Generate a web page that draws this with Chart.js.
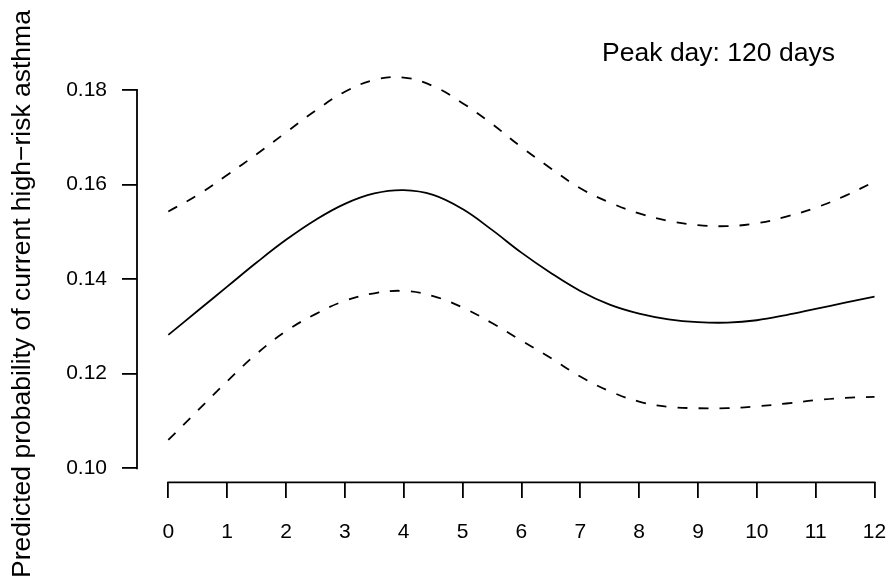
<!DOCTYPE html>
<html>
<head>
<meta charset="utf-8">
<script src="https://cdn.jsdelivr.net/npm/chart.js@4"></script>
<style>
html,body{margin:0;padding:0;background:#fff;}
#wrap{width:888px;height:582px;}
</style>
</head>
<body>
<div id="wrap"><canvas id="c" width="888" height="582"></canvas></div>
<script>
// ---- data ----
const months = [0,0.5,1,1.5,2,2.5,3,3.5,4,4.5,5,5.5,6,6.5,7,7.5,8,8.5,9,9.5,10,10.5,11,11.5,12];
const fitted = [0.1282,0.1333,0.1384,0.1435,0.1483,0.1525,0.1559,0.1581,0.1588,0.1578,0.1548,0.1504,0.1456,0.1413,0.1375,0.1346,0.1327,0.1315,0.1309,0.1308,0.1313,0.1324,0.1337,0.1350,0.1363];
const upperCI = [0.1543,0.1578,0.1620,0.1664,0.1710,0.1756,0.1796,0.1821,0.1826,0.1808,0.1772,0.1728,0.1679,0.1634,0.1592,0.1562,0.1539,0.1523,0.1514,0.1512,0.1518,0.1532,0.1551,0.1576,0.1606];
const lowerCI = [0.1060,0.1122,0.1184,0.1242,0.1290,0.1326,0.1354,0.1370,0.1375,0.1364,0.1340,0.1307,0.1270,0.1233,0.1194,0.1163,0.1141,0.1130,0.1127,0.1127,0.1131,0.1137,0.1144,0.1149,0.1151];
const xTickValues = [0,1,2,3,4,5,6,7,8,9,10,11,12];
const yTickValues = [0.10,0.12,0.14,0.16,0.18];
const yTitle = 'Predicted probability of current high\u2212risk asthma';
const annotationText = 'Peak day: 120 days';

const FONT = "'Liberation Sans', Arial, Helvetica, sans-serif";
const xAxisAt = 0.09704;   // value where the detached x axis sits

const pts = arr => months.map((m, i) => ({x: m, y: arr[i]}));

const axisLines = {
  id: 'axisLines',
  afterDraw(chart) {
    const {ctx, scales: {x, y}} = chart;
    ctx.save();
    ctx.strokeStyle = '#000';
    ctx.lineWidth = 1.8;
    ctx.beginPath();
    const yb = y.getPixelForValue(xAxisAt);
    ctx.moveTo(x.getPixelForValue(xTickValues[0]) - 0.9, yb);
    ctx.lineTo(x.getPixelForValue(xTickValues[xTickValues.length - 1]) + 0.9, yb);
    const xl = chart.chartArea.left;
    ctx.moveTo(xl, y.getPixelForValue(yTickValues[0]) + 0.9);
    ctx.lineTo(xl, y.getPixelForValue(yTickValues[yTickValues.length - 1]) - 0.9);
    ctx.stroke();
    ctx.restore();
  }
};

const annotation = {
  id: 'annotation',
  afterDraw(chart) {
    const ctx = chart.ctx;
    ctx.save();
    ctx.fillStyle = '#000';
    ctx.font = '26.5px ' + FONT;
    ctx.textAlign = 'center';
    ctx.textBaseline = 'alphabetic';
    ctx.fillText(annotationText, 718.5, 61);
    ctx.restore();
  }
};

const lineStyle = {
  borderColor: '#000',
  borderWidth: 1.8,
  pointRadius: 0,
  fill: false,
  tension: 0.4,
  clip: false
};

new Chart(document.getElementById('c'), {
  type: 'line',
  data: {
    datasets: [
      Object.assign({label: 'Fitted', data: pts(fitted)}, lineStyle),
      Object.assign({label: 'Upper', data: pts(upperCI), borderDash: [10, 11]}, lineStyle),
      Object.assign({label: 'Lower', data: pts(lowerCI), borderDash: [10, 11]}, lineStyle)
    ]
  },
  options: {
    responsive: false,
    devicePixelRatio: 1,
    animation: false,
    layout: {padding: {top: 74.8, bottom: 68.8, left: 0, right: 0}},
    plugins: {legend: {display: false}, tooltip: {enabled: false}},
    scales: {
      x: {
        type: 'linear',
        position: {y: xAxisAt},
        min: -0.532,
        max: 12.229,
        afterBuildTicks: s => { s.ticks = xTickValues.map(v => ({value: v})); },
        afterFit: s => { s.paddingLeft = 0; s.paddingRight = 0; },
        ticks: {
          color: '#000',
          font: {family: FONT, size: 21},
          padding: 21.7,
          maxRotation: 0,
          autoSkip: false,
          callback: v => String(v)
        },
        grid: {display: true, drawOnChartArea: false, drawTicks: true, tickLength: 16, color: '#000', lineWidth: 1.8},
        border: {display: false}
      },
      y: {
        type: 'linear',
        position: 'left',
        min: 0.090507,
        max: 0.18319,
        afterBuildTicks: s => { s.ticks = yTickValues.map(v => ({value: v})); },
        afterFit: s => { s.width = 137; s.paddingTop = 0; s.paddingBottom = 0; },
        ticks: {
          color: '#000',
          font: {family: FONT, size: 21},
          padding: 15,
          autoSkip: false,
          callback: v => Number(v).toFixed(2)
        },
        grid: {display: true, drawOnChartArea: false, drawTicks: true, tickLength: 15, color: '#000', lineWidth: 1.8},
        border: {display: false},
        title: {
          display: true,
          text: yTitle,
          color: '#000',
          font: {family: FONT, size: 26.5},
          padding: {top: 6.5, bottom: 0}
        }
      }
    }
  },
  plugins: [axisLines, annotation]
});
</script>
</body>
</html>
